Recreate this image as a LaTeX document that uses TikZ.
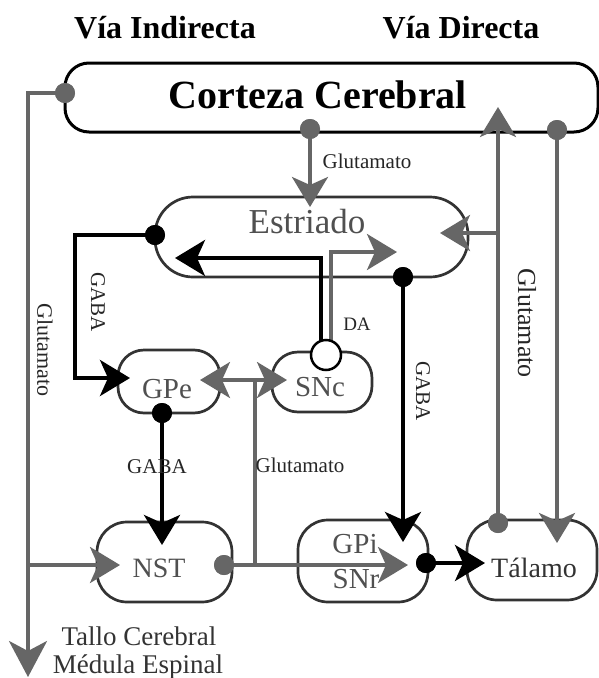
\documentclass[tikz,border=0pt]{standalone}
\usepackage{fontspec}
\setmainfont{Liberation Serif}
\usetikzlibrary{arrows.meta}
\definecolor{lg}{HTML}{666666}
\definecolor{dg}{HTML}{333333}
\definecolor{tg}{HTML}{505050}
\newcommand\fsz[1]{\fontsize{#1}{#1}\selectfont}
\begin{document}
\begin{tikzpicture}[x=1pt,y=-1pt,
 box/.style={draw=dg, line width=2.7pt, rounded corners=28pt, inner sep=0pt},
 bline/.style={line width=4pt, black},
 gline/.style={line width=3.5pt, lg},
 tip/.style={-{Stealth[length=30pt,width=36pt,inset=8pt]}},
 bigtip/.style={-{Stealth[length=36pt,width=38pt,inset=10pt]}},
 bdot/.style={circle, fill=black, minimum size=20pt, inner sep=0pt},
 gdot/.style={circle, fill=lg, minimum size=20pt, inner sep=0pt},
 lbl/.style={inner sep=0pt, anchor=base, text=tg},
 small/.style={inner sep=0pt, text=black!85}]
\useasboundingbox (0,0) rectangle (599,678);
\fill[white] (0,0) rectangle (599,678);
% boxes
\node[box, draw=black, line width=3pt, rounded corners=24pt, minimum width=533pt, minimum height=69pt] (cort) at (331.5,97.5) {};
\node[box, rounded corners=38pt, minimum width=313pt, minimum height=80pt] (estr) at (311.5,237) {};
\node[box, rounded corners=26pt, minimum width=102pt, minimum height=63pt] (gpe) at (169,381.5) {};
\node[box, rounded corners=26pt, minimum width=100pt, minimum height=60pt] (snc) at (322,382) {};
\node[box, rounded corners=30pt, minimum width=135pt, minimum height=80pt] (nst) at (164.5,562) {};
\node[box, rounded corners=30pt, minimum width=130pt, minimum height=82pt] (gpi) at (363,561) {};
\node[box, rounded corners=30pt, minimum width=130pt, minimum height=80pt] (tal) at (532,560) {};
% dots and coordinates
\node[gdot] (d1) at (65,93) {};
\node[gdot] (d2) at (310,129) {};
\node[gdot] (d3) at (557,130) {};
\node[bdot] (d4) at (155,235) {};
\node[bdot] (d5) at (403,277) {};
\node[bdot] (d6) at (162,413) {};
\node[gdot] (d7) at (224,565) {};
\node[bdot] (d8) at (426,563) {};
\node[gdot] (d9) at (498,523) {};
\coordinate (c1b) at (28,677);
\coordinate (c2) at (310,207);
\coordinate (c3) at (557,543);
\coordinate (c4b) at (75,378);
\coordinate (c4c) at (130,378);
\coordinate (c5) at (403,542);
\coordinate (c6) at (162,545);
\coordinate (c7a) at (255,565);
\coordinate (c7b) at (408,565);
\coordinate (c7c) at (255,380);
\coordinate (c8) at (485,563);
\coordinate (c9a) at (498,107);
\coordinate (c9b) at (498,233);
\coordinate (c9c) at (440,233);
\coordinate (c10a) at (28,565);
\coordinate (c10b) at (120,565);
\coordinate (c11a) at (200,380);
\coordinate (c11b) at (287,380);
\coordinate (c12b) at (175,258);
\coordinate (c12d) at (397,252);
\coordinate (dac) at (326,355);
% connectors (gray)
\draw[gline, bigtip] (d1.center) -| (c1b);
\draw[gline, tip] (d2.center) -- (c2);
\draw[gline, tip] (d3.center) -- (c3);
\draw[gline, tip] (d9.center) -- (c9a);
\draw[gline, tip] (c9b) -- (c9c);
\draw[gline, tip] (c10a) -- (c10b);
\draw[gline, tip] (d7.center) -- (c7b);
\draw[gline] (c7a) -- (c7c);
\draw[gline, {Stealth[length=30pt,width=36pt,inset=8pt]}-{Stealth[length=30pt,width=36pt,inset=8pt]}] (c11a) -- (c11b);
\draw[gline, tip] ([xshift=5pt]dac) |- (c12d);
% connectors (black)
\draw[bline, tip] (d4.center) -| (c4b) -- (c4c);
\draw[bline, tip] (d5.center) -- (c5);
\draw[bline, tip] (d6.center) -- (c6);
\draw[bline, tip] (d8.center) -- (c8);
\draw[bline, tip] ([xshift=-5pt]dac) |- (c12b);
% redraw dots on top
\node[gdot] at (d1) {};
\node[gdot] at (d2) {};
\node[gdot] at (d3) {};
\node[bdot] at (d4) {};
\node[bdot] at (d5) {};
\node[bdot] at (d6) {};
\node[gdot] at (d7) {};
\node[bdot] at (d8) {};
\node[gdot] at (d9) {};
\node[circle, draw=black, line width=2.5pt, fill=white, minimum size=30pt, inner sep=0pt] (da) at (dac) {};
% texts
\node[inner sep=0pt, anchor=base] (t1) at (165,38) {\fsz{32}\bfseries Vía Indirecta};
\node[inner sep=0pt, anchor=base] (t2) at (461,38) {\fsz{32}\bfseries Vía Directa};
\node[inner sep=0pt, anchor=base] (tcort) at (318,108) {\fsz{40}\bfseries Corteza Cerebral};
\node[lbl] (testr) at (307,233) {\fsz{35}Estriado};
\node[lbl] (tgpe) at (167,398) {\fsz{29}GPe};
\node[lbl] (tsnc) at (320,396) {\fsz{29}SNc};
\node[lbl] (tnst) at (159,577) {\fsz{28}NST};
\node[lbl] (tgpi) at (355,553) {\fsz{29}GPi};
\node[lbl] (tsnr) at (356,588) {\fsz{29}SNr};
\node[lbl, text=black!80] (ttal) at (534,577) {\fsz{28}Tálamo};
\node[small, anchor=base] (g1) at (367,168) {\fsz{21}Glutamato};
\node[small, anchor=base] (g2) at (157,473) {\fsz{21}GABA};
\node[small, anchor=base] (g3) at (357,330) {\fsz{19}DA};
\node[small, anchor=base] (g4) at (300,472) {\fsz{21}Glutamato};
\node[small, rotate=-90] (g5) at (45,350) {\fsz{22}Glutamato};
\node[small, rotate=-90] (g6) at (98,302) {\fsz{21}GABA};
\node[small, rotate=-90] (g7) at (527,323) {\fsz{26}Glutamato};
\node[small, rotate=-90] (g8) at (423,391) {\fsz{21}GABA};
\node[inner sep=0pt, anchor=base, text=black!80] (tallo) at (139,645) {\fsz{27}Tallo Cerebral};
\node[inner sep=0pt, anchor=base, text=black!80] (medula) at (138,673) {\fsz{27}Médula Espinal};
\end{tikzpicture}
\end{document}
